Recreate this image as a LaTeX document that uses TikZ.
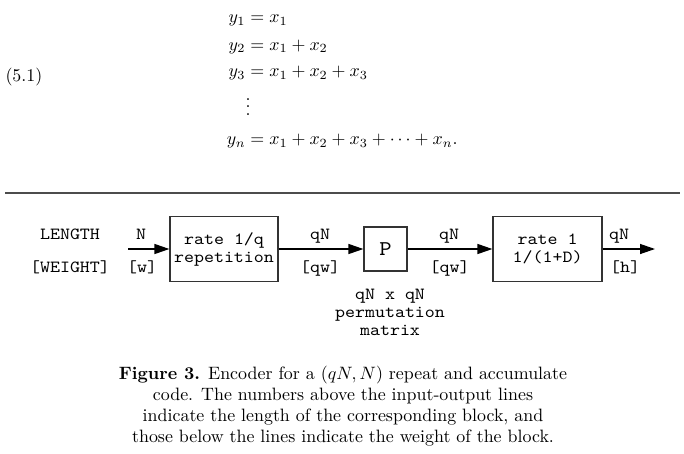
\documentclass[tikz,border=0pt]{standalone}
\usepackage{fontspec}
\newfontfamily\cour{lmmono10-regular.otf}[FakeStretch=1.12]
\usetikzlibrary{arrows.meta}
\begin{document}
\begin{tikzpicture}[x=1pt,y=-1pt,
  romtxt/.style={inner sep=0pt, outer sep=0pt, scale=1.79, transform shape},
  mono/.style={inner sep=0pt, outer sep=0pt, font=\cour\fontsize{17}{18}\selectfont},
  blk/.style={draw=black!80, line width=1.2pt, inner sep=0pt, align=center, font=\cour\fontsize{17}{18}\selectfont},
  flow/.style={line width=1.3pt, draw=black, -{Triangle[length=15pt,width=10pt]}}]
\useasboundingbox (0,0) rectangle (684,453);

% equations
\node[romtxt, anchor=base east] (l1) at (245.5,22.5) {$y_1$};
\node[romtxt, anchor=base west] (r1) at (245.5,22.5) {${}=x_1$};
\node[romtxt, anchor=base east] (l2) at (245.5,50) {$y_2$};
\node[romtxt, anchor=base west] (r2) at (245.5,50) {${}=x_1+x_2$};
\node[romtxt, anchor=base east] (l3) at (245.5,76.5) {$y_3$};
\node[romtxt, anchor=base west] (r3) at (245.5,76.5) {${}=x_1+x_2+x_3$};
\node[romtxt, anchor=base] (vd) at (248,115) {$\vdots$};
\node[romtxt, anchor=base east] (ln) at (245.5,144.5) {$y_n$};
\node[romtxt, anchor=base west] (rn) at (245.5,144.5) {${}=x_1+x_2+x_3+\cdots+x_n.$};
\node[romtxt, anchor=base west] (eqno) at (5.5,81.5) {(5.1)};

% rule
\draw[line width=1.1pt, black!70] (5,193) -- (680,193);

% diagram
\node[mono, anchor=base] (lenlab) at (70,239) {LENGTH};
\node[mono, anchor=base] (wlab) at (70,272) {[WEIGHT]};
\coordinate (in) at (128,249);
\coordinate (out) at (655,249);
\node[blk, minimum width=108pt, minimum height=65pt] (rep) at (224,249) {rate 1/q\\repetition};
\node[blk, minimum width=43pt, minimum height=44pt, font=\cour\fontsize{21}{24}\selectfont] (perm) at (385.5,249) {P};
\node[blk, minimum width=109pt, minimum height=65pt] (acc) at (547.5,249) {rate 1\\1/(1+D)};
\draw[flow] (in) -- (rep);
\draw[flow] (rep) -- (perm);
\draw[flow] (perm) -- (acc);
\draw[flow] (acc) -- (out);

\node[mono, anchor=base] (n0) at (141,239) {N};
\node[mono, anchor=base] (w0) at (142,272) {[w]};
\node[mono, anchor=base] (n1) at (320,239) {qN};
\node[mono, anchor=base] (w1) at (320,272) {[qw]};
\node[mono, anchor=base] (n2) at (449,239) {qN};
\node[mono, anchor=base] (w2) at (449.5,272) {[qw]};
\node[mono, anchor=base] (n3) at (619,239) {qN};
\node[mono, anchor=base] (w3) at (625,272) {[h]};
\node[mono, align=center, anchor=north] (permlab) at (390,289.5) {qN x qN\\permutation\\matrix};

% caption
\node[romtxt, anchor=base] (c1) at (343,379) {\textbf{Figure 3.} Encoder for a $(qN,N)$ repeat and accumulate};
\node[romtxt, anchor=base] (c2) at (343,400) {code. The numbers above the input-output lines};
\node[romtxt, anchor=base] (c3) at (343,421) {indicate the length of the corresponding block, and};
\node[romtxt, anchor=base] (c4) at (343,442) {those below the lines indicate the weight of the block.};
\end{tikzpicture}
\end{document}
